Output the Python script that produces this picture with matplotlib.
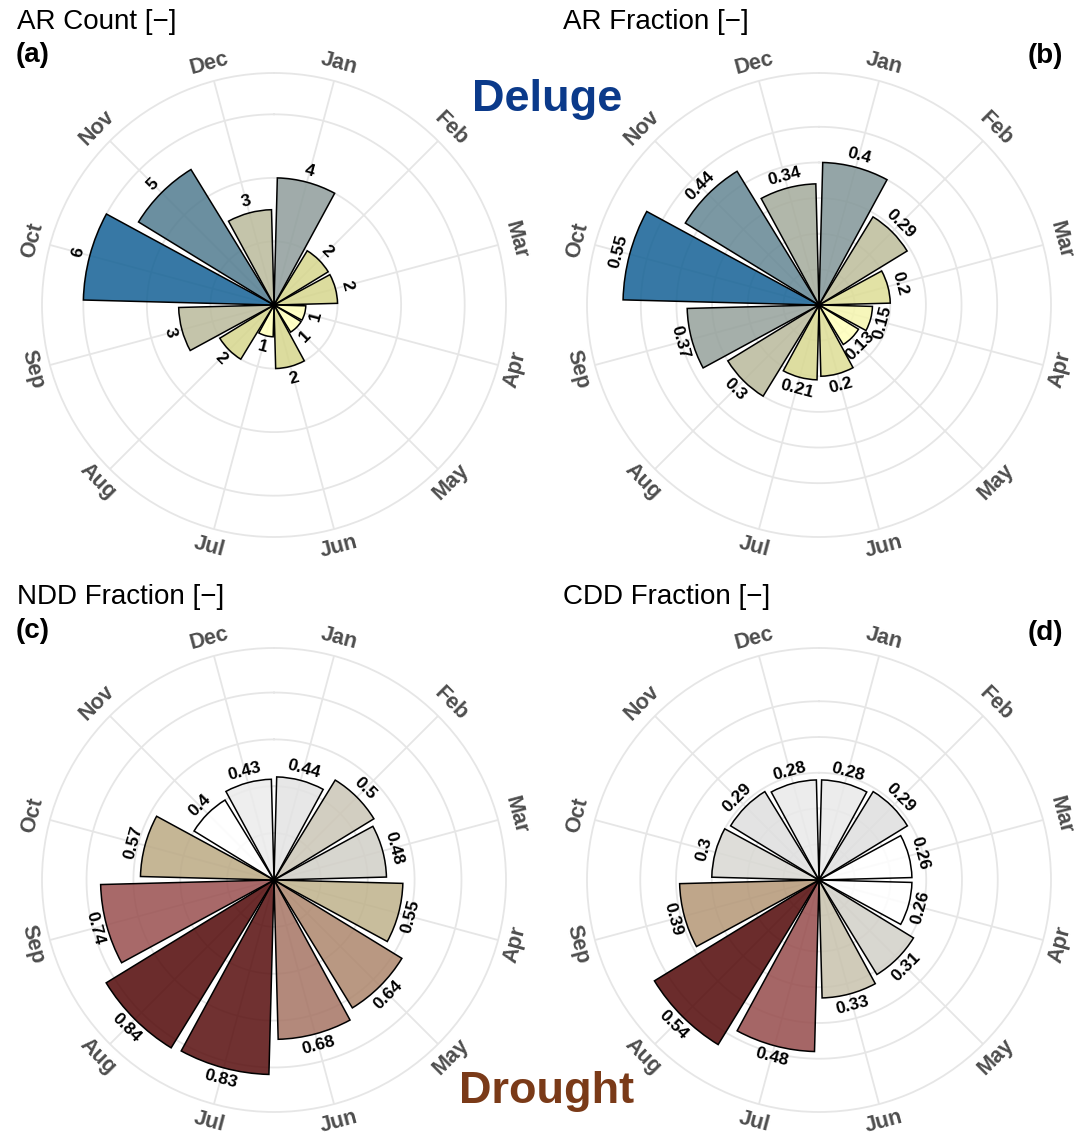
import numpy as np
import matplotlib
matplotlib.use("Agg")
import matplotlib.pyplot as plt
from matplotlib.colors import LinearSegmentedColormap, to_rgb

# ---------------- data ----------------
months = ["Jan", "Feb", "Mar", "Apr", "May", "Jun",
          "Jul", "Aug", "Sep", "Oct", "Nov", "Dec"]
ar_count = [4, 2, 2, 1, 1, 2, 1, 2, 3, 6, 5, 3]
ar_fraction = [0.4, 0.29, 0.2, 0.15, 0.13, 0.2, 0.21, 0.3, 0.37, 0.55, 0.44, 0.34]
ndd_fraction = [0.44, 0.5, 0.48, 0.55, 0.64, 0.68, 0.83, 0.84, 0.74, 0.57, 0.4, 0.43]
cdd_fraction = [0.28, 0.29, 0.26, 0.26, 0.31, 0.33, 0.48, 0.54, 0.39, 0.3, 0.29, 0.28]

titles = ["AR Count [\u2212]", "AR Fraction [\u2212]",
          "NDD Fraction [\u2212]", "CDD Fraction [\u2212]"]
tags = ["(a)", "(b)", "(c)", "(d)"]
r_breaks = [[2, 4, 6],
            [0.1, 0.2, 0.3, 0.4, 0.5],
            [0.2, 0.4, 0.6, 0.8],
            [0.1, 0.2, 0.3, 0.4, 0.5]]
r_outer = [7.3, 0.651, 0.99, 0.649]

# ---------------- style ----------------
W, H = 1080, 1136
FONT = "Liberation Sans"
GRID = "#E6E6E6"
ALPHA = 0.85

deluge_anchors = [(0.0, "#FFFFC4"), (0.2, "#DCDC9E"), (0.4, "#C4C4AA"),
                  (0.6, "#A0ACAA"), (0.8, "#6B8FA0"), (1.0, "#3779A5")]
drought_anchors = [(0.0, "#FFFFFF"), (0.1, "#E5E5E5"), (0.2, "#D5D3CA"),
                   (0.35, "#C8BC9A"), (0.5, "#BCA085"), (0.65, "#B2867A"),
                   (0.78, "#A86868"), (1.0, "#6B2C2C")]


def pre_alpha(hexcol):
    c = np.array(to_rgb(hexcol))
    return tuple(np.clip((c - (1 - ALPHA)) / ALPHA, 0, 1))


def make_cmap(name, anchors):
    return LinearSegmentedColormap.from_list(
        name, [(p, pre_alpha(c)) for p, c in anchors])


cmap_deluge = make_cmap("deluge", deluge_anchors)
cmap_drought = make_cmap("drought", drought_anchors)

panels = [
    dict(vals=ar_count, cmap=cmap_deluge, center=(274, 305), R=232),
    dict(vals=ar_fraction, cmap=cmap_deluge, center=(819, 305), R=232),
    dict(vals=ndd_fraction, cmap=cmap_drought, center=(274, 880), R=232),
    dict(vals=cdd_fraction, cmap=cmap_drought, center=(819, 880), R=232),
]

fig = plt.figure(figsize=(W / 100, H / 100), dpi=100)
fig.patch.set_facecolor("white")

theta_deg = 15 + 30 * np.arange(12)
theta = np.deg2rad(theta_deg)
bar_width = np.deg2rad(27)


def tangent_rotation(deg):
    deg = deg % 360
    if 90 < deg < 270:
        return 180 - deg
    return -deg


def fmt(v):
    return f"{v:g}"


for i, p in enumerate(panels):
    cx, cy = p["center"]
    R = p["R"]
    ax = fig.add_axes([(cx - R) / W, 1 - (cy + R) / H, 2 * R / W, 2 * R / H],
                      projection="polar")
    ax.set_theta_zero_location("N")
    ax.set_theta_direction(-1)
    rmax = r_outer[i]
    ax.set_ylim(0, rmax)
    ax.set_xticks([])
    ax.set_yticks([])
    ax.grid(False)
    ax.set_facecolor("none")
    ax.spines["polar"].set_color(GRID)
    ax.spines["polar"].set_linewidth(1.3)

    # grid
    tt = np.linspace(0, 2 * np.pi, 400)
    for b in r_breaks[i]:
        ax.plot(tt, np.full_like(tt, b), color=GRID, lw=1.3, zorder=1)
    for t in theta:
        ax.plot([t, t], [0, rmax], color=GRID, lw=1.3, zorder=1)

    vals = np.array(p["vals"], dtype=float)
    norm = (vals - vals.min()) / (vals.max() - vals.min())
    cols = [(*p["cmap"](n)[:3], ALPHA) for n in norm]
    ax.bar(theta, vals, width=bar_width, bottom=0, color=cols,
           edgecolor="black", linewidth=1.1, zorder=3)

    px = rmax / R  # data units per pixel
    # value labels
    for t, d, v in zip(theta, theta_deg, vals):
        ax.text(t, v + 12 * px, fmt(v), rotation=tangent_rotation(d),
                rotation_mode="anchor", ha="center", va="center",
                fontsize=12.5, fontweight="bold", family=FONT, color="black",
                zorder=5, clip_on=False)
    # month labels
    for t, d, m in zip(theta, theta_deg, months):
        ax.text(t, rmax + 18 * px, m, rotation=tangent_rotation(d),
                rotation_mode="anchor", ha="center", va="center",
                fontsize=15.5, fontweight="bold", family=FONT, color="#4D4D4D",
                clip_on=False)

# titles & tags
title_pos = [(17, 22), (563, 22), (17, 597), (563, 597)]
tag_pos = [(16, 55, "left"), (1063, 56, "right"), (16, 631, "left"), (1063, 633, "right")]
for (x, y), t in zip(title_pos, titles):
    fig.text(x / W, 1 - y / H, t, ha="left", va="center", fontsize=20,
             family=FONT, color="black")
for (x, y, ha), t in zip(tag_pos, tags):
    fig.text(x / W, 1 - y / H, t, ha=ha, va="center", fontsize=20,
             fontweight="bold", family=FONT, color="black")

fig.text(547 / W, 1 - 100 / H, "Deluge", ha="center", va="center",
         fontsize=32.5, fontweight="bold", family=FONT, color="#0B3A8A")
fig.text(547 / W, 1 - 1091 / H, "Drought", ha="center", va="center",
         fontsize=32.5, fontweight="bold", family=FONT, color="#7A3A18")

fig.savefig("out.png", dpi=100, facecolor="white")
